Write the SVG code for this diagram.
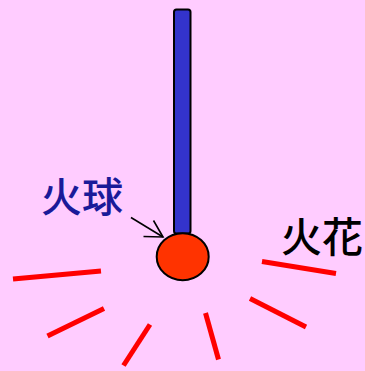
<svg xmlns="http://www.w3.org/2000/svg" width="365" height="371" viewBox="0 0 365 371">
  <defs>
    <style>
      .spark { stroke: #ff0000; stroke-width: 5; fill: none; }
      .label { font-family: "Noto Sans CJK JP", "Noto Sans CJK SC", sans-serif; font-size: 41px; font-weight: 500; }
      .pointer { stroke: #000; stroke-width: 1.6; fill: none; }
    </style>
  </defs>
  <rect width="365" height="371" fill="#ffccff"/>

  <!-- stick -->
  <g id="stick">
    <rect x="174" y="9.5" width="16.5" height="224" rx="2.5" fill="#3333cc" stroke="#000" stroke-width="2"/>
  </g>

  <!-- fireball at the tip -->
  <g id="fireball">
    <ellipse cx="182.7" cy="256.7" rx="26" ry="23.5" fill="#ff3300" stroke="#000" stroke-width="2"/>
  </g>

  <!-- sparks -->
  <g id="sparks">
    <line class="spark" x1="13" y1="279" x2="101" y2="271"/>
    <line class="spark" x1="47.5" y1="336" x2="104" y2="308.5"/>
    <line class="spark" x1="123.5" y1="365.5" x2="150" y2="324.5"/>
    <line class="spark" x1="205.5" y1="313" x2="218.5" y2="359.5"/>
    <line class="spark" x1="250" y1="298.5" x2="306" y2="327"/>
    <line class="spark" x1="262" y1="261.5" x2="336" y2="273.5"/>
  </g>

  <!-- labels -->
  <g id="label-fireball">
    <text class="label" x="41" y="212" fill="#1a1a99">火球</text>
  </g>
  <g id="label-sparks">
    <text class="label" x="281" y="252" fill="#000">火花</text>
  </g>

  <!-- pointer from label to fireball -->
  <g id="connectors">
    <line class="pointer" x1="131" y1="217.5" x2="163" y2="237"/>
    <polyline class="pointer" points="143.5,236.5 163,237 153.5,220.5"/>
  </g>
</svg>
